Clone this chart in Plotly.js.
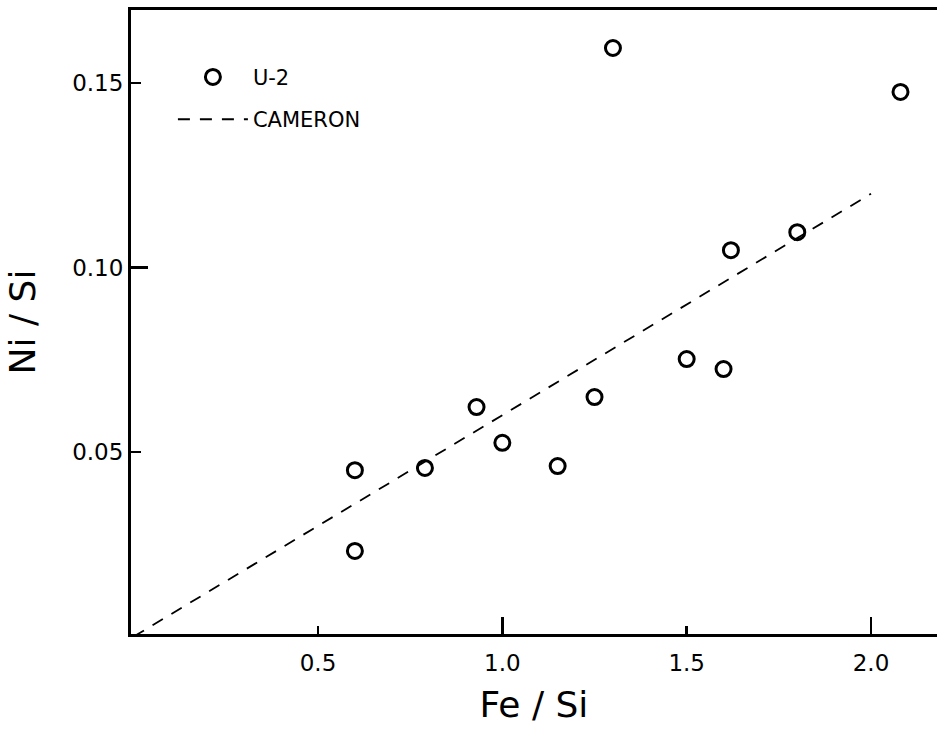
<!DOCTYPE html>
<html>
<head>
<meta charset="utf-8">
<script src="https://cdn.plot.ly/plotly-3.0.1.min.js"></script>
<style>html,body{margin:0;padding:0;background:#fff;}#chart{width:937px;height:733px;}</style>
</head>
<body>
<div id="chart"></div>
<script>
// U-2 measurements
var u2FeSi = [1.30, 2.08, 1.80, 1.62, 1.50, 1.60, 1.25, 0.93, 1.00, 1.15, 0.79, 0.60, 0.60];
var u2NiSi = [0.1595, 0.1476, 0.1096, 0.1047, 0.0752, 0.0725, 0.0649, 0.0622, 0.0525, 0.0462, 0.0457, 0.0451, 0.0232];
// Cameron solar abundance line
var cameronFeSi = [0.0, 2.0];
var cameronNiSi = [0.0, 0.12];
// tick labels
var xTickVals = [0.5, 1.0, 1.5, 2.0];
var xTickText = ["0.5", "1.0", "1.5", "2.0"];
var xMajorVals = [1.0, 2.0];
var yTickVals = [0.05, 0.10, 0.15];
var yTickText = ["0.05", "0.10", "0.15"];
var yMajorVals = [0.10];

var FONT = "DejaVu Sans";
var xRange = [-0.0073, 2.179];
var yRange = [0.0007, 0.1698];

var traces = [
  {
    x: u2FeSi, y: u2NiSi, type: "scatter", mode: "markers", name: "U-2",
    legendgroup: "a",
    marker: {symbol: "circle-open", size: 15, color: "#000", line: {width: 3, color: "#000"}}
  },
  {
    x: cameronFeSi, y: cameronNiSi, type: "scatter", mode: "lines", name: "CAMERON",
    legendgroup: "b",
    line: {color: "#000", width: 1.8, dash: "12px,10px"}
  },
  // invisible trace on overlay axes to carry the longer major ticks
  {
    x: [xRange[0]], y: [yRange[0]], xaxis: "x2", yaxis: "y2", type: "scatter", mode: "markers",
    marker: {opacity: 0}, showlegend: false, hoverinfo: "skip"
  }
];

var layout = {
  width: 937, height: 733,
  margin: {l: 131, r: 0, t: 10, b: 99},
  paper_bgcolor: "#fff", plot_bgcolor: "#fff",
  font: {family: FONT, color: "#000"},
  showlegend: true,
  legend: {
    x: 0.052, y: 0.925, xanchor: "left", yanchor: "top",
    bgcolor: "rgba(0,0,0,0)", font: {family: FONT, size: 21, color: "#000"},
    tracegroupgap: 12, itemwidth: 70
  },
  xaxis: {
    range: xRange, showgrid: false, zeroline: false,
    showline: true, linewidth: 3, linecolor: "#000", mirror: true,
    ticks: "inside", ticklen: 8, tickwidth: 2.5, tickcolor: "#000",
    tickvals: xTickVals, ticktext: xTickText, ticklabelstandoff: 6,
    tickfont: {family: FONT, size: 23, color: "#000"},
    title: {text: "Fe / Si", font: {family: FONT, size: 36, color: "#000"}, standoff: 18}
  },
  yaxis: {
    range: yRange, showgrid: false, zeroline: false,
    showline: true, linewidth: 3, linecolor: "#000",
    ticks: "inside", ticklen: 10, tickwidth: 2.5, tickcolor: "#000",
    tickvals: yTickVals, ticktext: yTickText,
    tickfont: {family: FONT, size: 23, color: "#000"},
    title: {text: "Ni / Si", font: {family: FONT, size: 36, color: "#000"}, standoff: 26}
  },
  xaxis2: {
    overlaying: "x", range: xRange, showgrid: false, zeroline: false, showline: false,
    ticks: "inside", ticklen: 17, tickwidth: 2.5, tickcolor: "#000",
    tickvals: xMajorVals, showticklabels: false, side: "bottom"
  },
  yaxis2: {
    overlaying: "y", range: yRange, showgrid: false, zeroline: false, showline: false,
    ticks: "inside", ticklen: 17, tickwidth: 2.5, tickcolor: "#000",
    tickvals: yMajorVals, showticklabels: false, side: "left"
  }
};

Plotly.newPlot("chart", traces, layout, {displayModeBar: false, staticPlot: true});
</script>
</body>
</html>
